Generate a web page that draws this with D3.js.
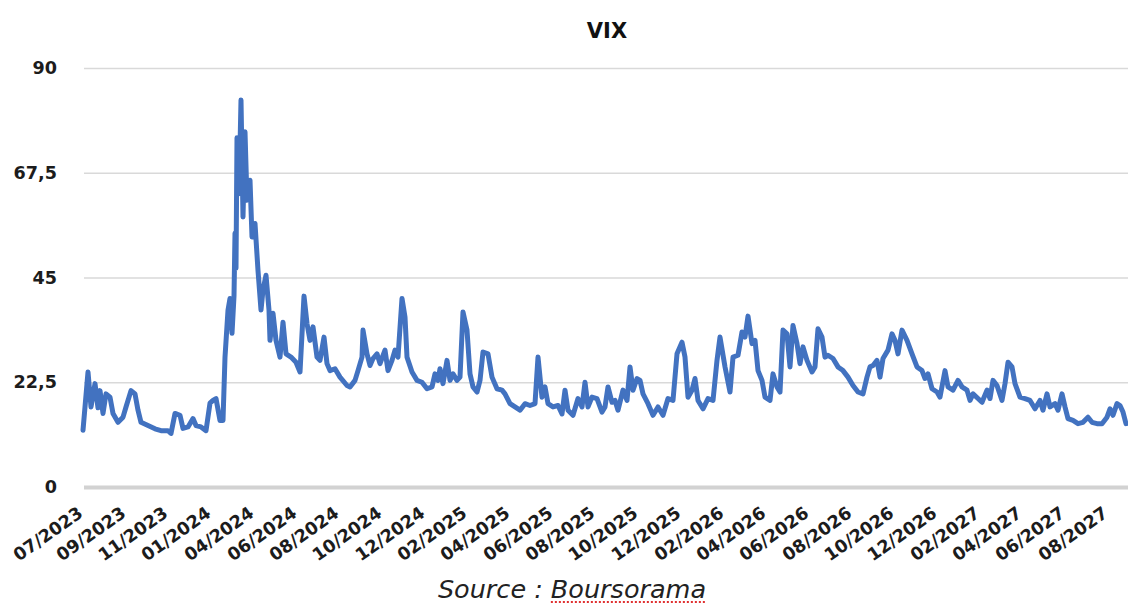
<!DOCTYPE html>
<html>
<head>
<meta charset="utf-8">
<script src="https://cdn.jsdelivr.net/npm/d3@7"></script>
<style>
    body { margin: 0; background: #fff; }
    .axis text { font-family: "DejaVu Sans", sans-serif; font-weight: bold; font-size: 17.6px; fill: #1c1c1c; }
    .grid line { stroke: #d9d9d9; stroke-width: 1.5; }
    .grid .zero line { stroke: #d2d2d2; stroke-width: 4; }
</style>
</head>
<body>
<div id="chartArea"></div>
<script>
///////////////////////////// DATA /////////////////////////////////////

// trading day index of each reading (0 = first day of 07/2023)
var days = [0, 5, 8, 12, 15, 17, 20, 23, 27, 30, 35, 40, 43, 48, 52, 55, 58, 65, 72, 78,
    85, 88, 92, 97, 100, 105, 110, 113, 118, 123, 127, 130, 133, 137, 140, 142, 145, 147, 149, 151,
    152, 153, 154, 156, 158, 160, 162, 164, 167, 169, 172, 175, 178, 180, 183, 186, 187, 190, 193, 197,
    200, 203, 208, 213, 217, 221, 224, 227, 230, 234, 237, 241, 244, 247, 252, 257, 264, 267, 272, 275,
    279, 280, 284, 287, 290, 294, 297, 302, 305, 309, 312, 315, 319, 322, 324, 329, 334, 339, 344, 349,
    352, 355, 357, 360, 364, 367, 370, 374, 377, 380, 384, 387, 390, 394, 397, 400, 405, 409, 414, 419,
    422, 427, 432, 437, 442, 447, 452, 455, 459, 462, 465, 470, 475, 479, 482, 485, 490, 495, 499, 502,
    505, 509, 514, 519, 522, 525, 529, 532, 535, 540, 544, 547, 550, 554, 557, 560, 565, 570, 575, 580,
    585, 590, 594, 599, 602, 605, 609, 612, 615, 620, 625, 630, 634, 637, 642, 647, 650, 655, 659, 662,
    665, 669, 672, 675, 679, 682, 687, 690, 694, 697, 700, 704, 707, 710, 714, 717, 720, 724, 729, 732,
    735, 739, 742, 745, 750, 755, 760, 765, 770, 775, 780, 784, 787, 790, 794, 797, 800, 805, 809, 812,
    815, 819, 824, 829, 834, 839, 842, 845, 849, 854, 857, 862, 865, 870, 875, 879, 884, 887, 890, 895,
    899, 904, 907, 910, 914, 919, 922, 925, 929, 932, 937, 942, 947, 952, 957, 960, 964, 967, 972, 975,
    979, 982, 985, 990, 995, 1000, 1005, 1009, 1014, 1019, 1024, 1027, 1030, 1034, 1037, 1040, 1043];

var vix = [12.2, 24.7, 17.2, 22.2, 17, 20.7, 15.8, 20, 19.3, 15.8, 13.9, 15, 17.2, 20.7, 20, 16.5, 13.9, 13.2, 12.5, 12.1,
    12.1, 11.5, 15.8, 15.4, 12.6, 12.9, 14.7, 13.2, 12.9, 12.1, 18, 18.6, 19, 14.3, 14.3, 27.9, 38, 40.5, 33, 41,
    54.5, 47, 75, 63, 83.1, 58, 76.3, 61.6, 65.9, 53.7, 56.6, 46.5, 38, 42.3, 45.5, 38, 31.5, 37.3, 31.5, 27.9,
    35.4, 28.6, 27.9, 26.8, 24.7, 41, 35.1, 31.5, 34.4, 27.9, 27.2, 32.2, 26.5, 25, 25.4, 23.6, 21.8, 21.5, 22.9, 25,
    27.9, 33.7, 28.6, 26.1, 27.6, 28.6, 26.5, 29.4, 25, 27.2, 29.4, 27.9, 40.5, 36.5, 27.9, 24.7, 22.9, 22.5, 21.1, 21.5,
    24.3, 22.9, 25.4, 22.2, 27.2, 22.9, 24.3, 22.9, 23.6, 37.6, 33.7, 24.3, 21.5, 20.4, 22.9, 29, 28.6, 23.6, 21.1, 20.8,
    20, 17.9, 17.2, 16.5, 17.9, 17.5, 17.9, 27.9, 19.3, 21.5, 17.9, 17.2, 17.5, 15.7, 20.8, 16.5, 15.4, 19, 17.2, 22.5,
    17.2, 19.3, 19, 16.1, 17.2, 21.5, 18.2, 18.6, 16.5, 20.8, 18.6, 25.8, 20.8, 23.3, 22.9, 20, 17.9, 15.4, 17.2, 15.4,
    19, 18.6, 28.6, 31.1, 27.9, 19.3, 20.8, 23.3, 18.6, 16.8, 19, 18.6, 27.2, 32.2, 25.8, 20.4, 27.9, 28.3, 33.3, 32.2,
    36.7, 30.8, 31.5, 25, 22.9, 19.3, 18.6, 24.3, 21.5, 20.4, 33.7, 32.9, 25.8, 34.7, 30.8, 26.5, 30.1, 27.2, 24.7, 25.8,
    34, 32.2, 27.9, 28.3, 27.6, 25.8, 25, 23.6, 21.8, 20.4, 20, 23.6, 25.8, 26.1, 27.2, 23.6, 27.6, 29.4, 32.9, 31.5,
    28.6, 33.7, 31.5, 28.6, 25.8, 25, 23.3, 24.3, 21.1, 20.4, 19.3, 25, 21.5, 20.8, 22.9, 21.5, 20.8, 18.6, 20, 19,
    18.2, 20.8, 19, 22.9, 21.8, 18.6, 22.2, 26.8, 25.8, 22.2, 19.3, 19, 18.6, 16.8, 18.6, 16.5, 20, 17.2, 17.9, 16.5,
    20, 17.2, 14.7, 14.3, 13.6, 13.9, 15, 13.9, 13.6, 13.6, 15, 16.8, 15.4, 17.9, 17.5, 16.1, 13.6];

var tickDays = [0, 43, 85, 128, 171, 214, 256, 299, 342, 384, 427, 470, 512,
    555, 598, 641, 683, 726, 769, 811, 854, 897, 939, 982, 1025];
var tickLabels = ["07/2023", "09/2023", "11/2023", "01/2024", "04/2024", "06/2024", "08/2024",
    "10/2024", "12/2024", "02/2025", "04/2025", "06/2025", "08/2025", "10/2025", "12/2025",
    "02/2026", "04/2026", "06/2026", "08/2026", "10/2026", "12/2026", "02/2027", "04/2027",
    "06/2027", "08/2027"];
var yTicks = [0, 22.5, 45, 67.5, 90];

///////////////////////////// CHART OPTIONS /////////////////////////////////////

var W = 1128, H = 603;
var margin = { top: 68, right: 0, bottom: 116, left: 84 },
    width = W - margin.left - margin.right,
    height = H - margin.top - margin.bottom;

var x = d3.scaleLinear().domain([0, 1043]).range([-1, width - 2]),
    y = d3.scaleLinear().domain([0, 90]).range([height, 0]);

var svg = d3.select("#chartArea").append("svg")
    .attr("width", W)
    .attr("height", H);

var focus = svg.append("g")
    .attr("transform", "translate(" + margin.left + "," + margin.top + ")");

// gridlines + y labels
var yAxis = focus.append("g")
    .attr("class", "axis grid")
    .call(d3.axisLeft(y)
        .tickValues(yTicks)
        .tickSize(-width)
        .tickPadding(27)
        .tickFormat(function(d) { return String(d).replace(".", ","); }));
yAxis.select(".domain").remove();
yAxis.selectAll(".tick").classed("zero", function(d) { return d === 0; });

// x labels
var xAxis = focus.append("g")
    .attr("class", "axis")
    .attr("transform", "translate(0," + height + ")")
    .call(d3.axisBottom(x)
        .tickValues(tickDays)
        .tickSize(0)
        .tickFormat(function(d, i) { return tickLabels[i]; }));
xAxis.select(".domain").remove();
xAxis.selectAll("text")
    .attr("x", -16)
    .attr("y", 24)
    .attr("dy", null)
    .attr("transform", "rotate(-35)")
    .style("text-anchor", "end");

// the line
var line = d3.line()
    .x(function(d, i) { return x(days[i]); })
    .y(function(d) { return y(d); });

focus.append("path")
    .datum(vix)
    .attr("fill", "none")
    .attr("stroke", "#4272c0")
    .attr("stroke-width", 5)
    .attr("stroke-linejoin", "round")
    .attr("stroke-linecap", "round")
    .attr("d", line);

// title
svg.append("text")
    .attr("x", 607)
    .attr("y", 38)
    .style("text-anchor", "middle")
    .style("font-family", "DejaVu Sans, sans-serif")
    .style("font-weight", "bold")
    .style("font-size", "21px")
    .style("fill", "#111")
    .text("VIX");

// source
var source = svg.append("text")
    .attr("x", 572)
    .attr("y", 598)
    .style("text-anchor", "middle")
    .style("font-family", "DejaVu Sans, sans-serif")
    .style("font-style", "italic")
    .style("font-size", "25.5px")
    .style("fill", "#222")
    .text("Source : Boursorama");

// red spell-check underline under "Boursorama"
var txt = source.node();
var start = txt.getStartPositionOfChar(9).x,
    end = txt.getEndPositionOfChar(18).x;
svg.append("line")
    .attr("x1", start)
    .attr("x2", end)
    .attr("y1", 602)
    .attr("y2", 602)
    .attr("stroke", "#e03030")
    .attr("stroke-width", 2)
    .attr("stroke-dasharray", "2,2");
</script>
</body>
</html>
